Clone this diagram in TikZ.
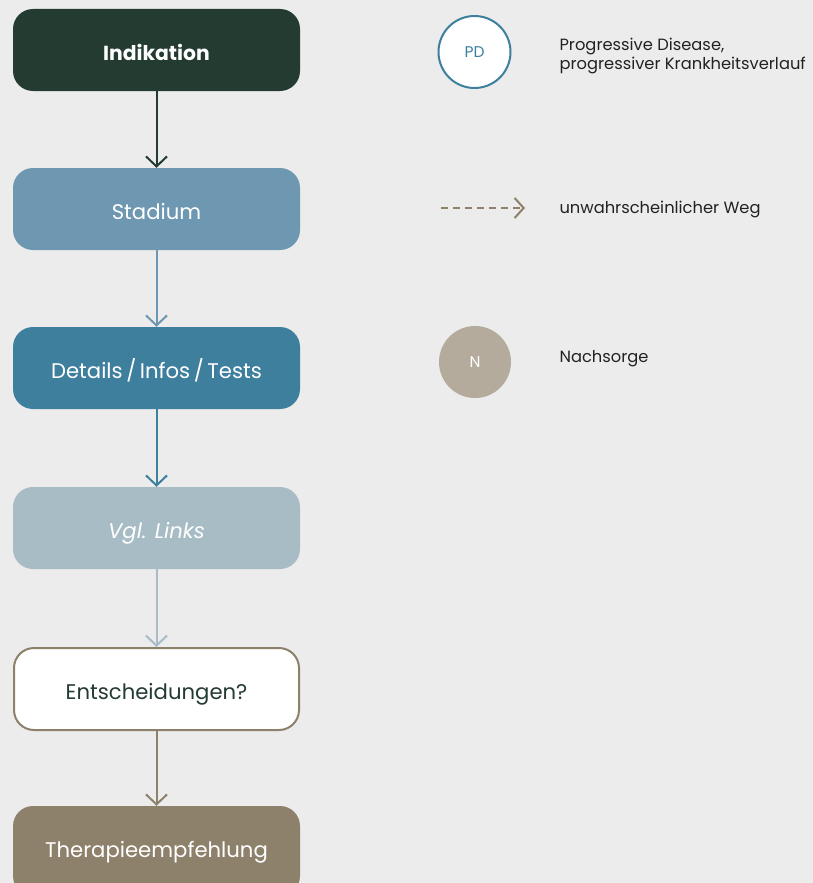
\documentclass[tikz,border=0pt]{standalone}
\usepackage{fontspec}
\setmainfont{Poppins}
\usetikzlibrary{arrows.meta}
\definecolor{bg}{HTML}{EBECEB}
\definecolor{cdark}{HTML}{243B32}
\definecolor{cstad}{HTML}{6E97B2}
\definecolor{cdet}{HTML}{3F7F9E}
\definecolor{cvgl}{HTML}{A8BCC5}
\definecolor{cbrown}{HTML}{8E816C}
\definecolor{cnach}{HTML}{B5AB9D}
\definecolor{ctext}{HTML}{222222}
\tikzset{
  x=1pt, y=-1pt,
  flowbox/.style={rounded corners=20pt, minimum width=287pt, minimum height=82pt,
    inner sep=0pt, text height=21pt, text depth=0pt,
    font=\fontsize{21.2}{25}\selectfont, text=white},
  flowarrow/.style={line width=2pt, -{Straight Barb[length=10pt,width=21pt,line width=2pt]}},
  legtext/.style={anchor=west, text=ctext, font=\fontsize{16.3}{19.5}\selectfont, align=left},
  legcircle/.style={circle, minimum size=72pt, inner sep=0pt, font=\fontsize{15.5}{18}\selectfont},
}
\begin{document}
\begin{tikzpicture}
\fill[bg] (0,0) rectangle (813,883);
\useasboundingbox (0,0) rectangle (813,883);

% flow column
\node[flowbox, fill=cdark, font=\fontsize{20.3}{24}\selectfont\bfseries] (ind) at (156.5,50) {Indikation};
\node[flowbox, fill=cstad] (stad) at (156.5,209) {Stadium};
\node[flowbox, fill=cdet] (det) at (156.5,368) {Details\,/\,Infos\,/\,Tests};
\node[flowbox, fill=cvgl, font=\fontsize{21.2}{25}\selectfont\itshape] (vgl) at (156.5,528) {Vgl. Links};
\node[flowbox, fill=white, draw=cbrown, line width=2pt, text=cdark, minimum width=285pt, minimum height=82pt] (ent) at (156.5,689) {Entscheidungen?};
\node[flowbox, fill=cbrown, minimum height=90pt, text height=12pt] (ther) at (156.5,851) {Therapieempfehlung};

\draw[flowarrow, cdark] (ind.south) -- (stad.north);
\draw[flowarrow, cstad] (stad.south) -- (det.north);
\draw[flowarrow, cdet] (det.south) -- (vgl.north);
\draw[flowarrow, cvgl] (vgl.south) -- (ent.north);
\draw[flowarrow, cbrown] (ent.south) -- (ther.north);

% legend
\node[legcircle, fill=white, draw=cdet, line width=2pt, text=cdet] (pd) at (474.5,52) {PD};
\node[legtext] (pdtext) at (556,56) {Progressive Disease,\\progressiver Krankheitsverlauf};

\coordinate (dashA) at (441,208);
\coordinate (dashB) at (525,208);
\draw[cbrown, line width=2pt, dash pattern=on 7pt off 5pt,
  -{Straight Barb[length=9pt,width=20pt,line width=2pt]}] (dashA) -- (dashB);
\node[legtext] (weg) at (556,209) {unwahrscheinlicher Weg};

\node[legcircle, fill=cnach, text=white] (n) at (475,362) {N};
\node[legtext] (nach) at (556,359) {Nachsorge};
\end{tikzpicture}
\end{document}
